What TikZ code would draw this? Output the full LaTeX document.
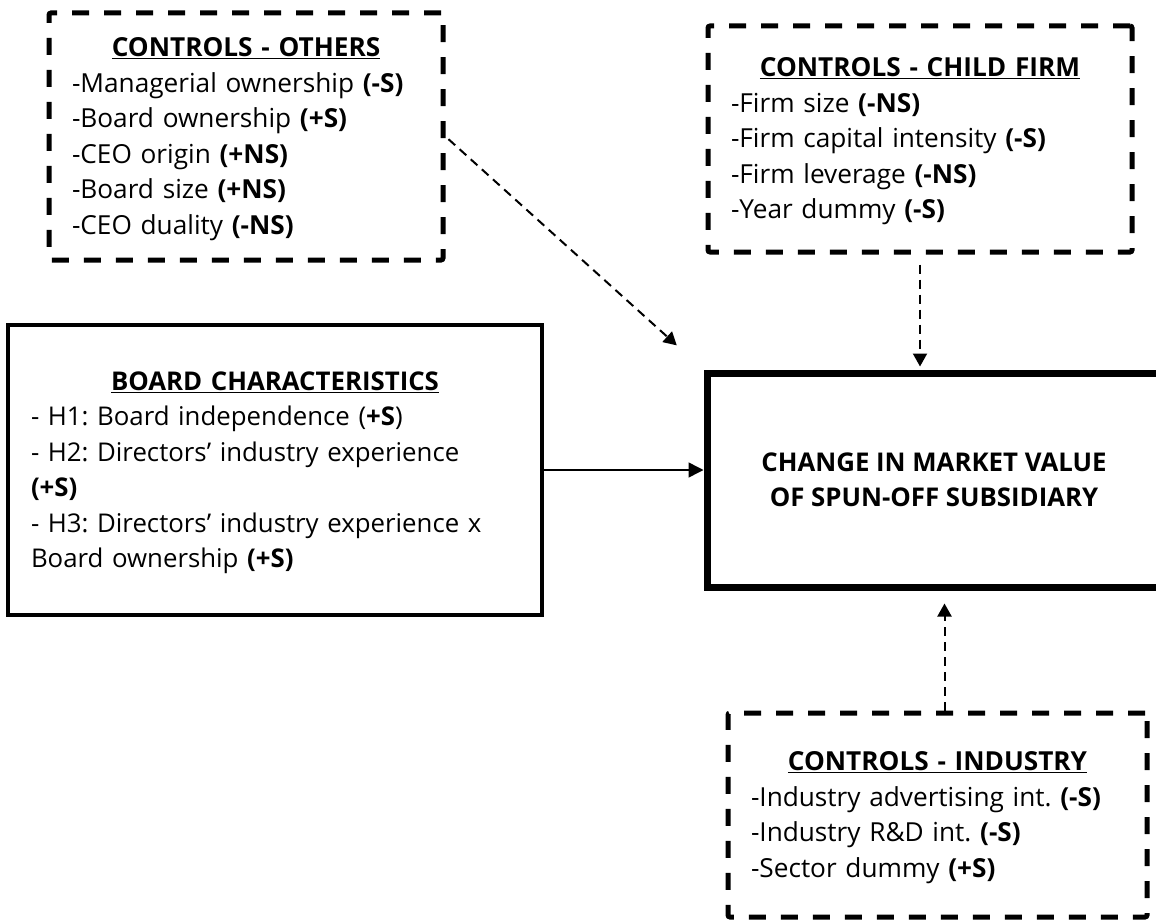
\documentclass[tikz,border=0pt]{standalone}
\usepackage{fontspec}
\setmainfont{Open Sans}
\usetikzlibrary{arrows.meta}
\frenchspacing

\newcommand{\boxtitle}[1]{\makebox[\hsize]{\rule{0pt}{24pt}\bfseries\underline{#1}}}
\newcommand{\sig}[1]{\textbf{(#1)}}

\begin{document}
\begin{tikzpicture}[x=1pt, y=-1pt,
        ctrl/.style={rectangle, draw, line width=5pt, dash pattern=on 17pt off 15pt, rounded corners=2pt, align=left, inner xsep=23pt, font=\fontsize{26.2}{35.5}\selectfont},
        board/.style={rectangle, draw, line width=4pt, align=left, inner xsep=23pt, font=\fontsize{25.8}{35.5}\selectfont},
        outcome/.style={rectangle, draw, line width=7pt, align=center, font=\bfseries\fontsize{25.8}{35}\selectfont},
        link/.style={-{Triangle[length=13pt,width=14pt]}, line width=2pt, dash pattern=on 9pt off 6pt}
    ]
        \useasboundingbox (0,0) rectangle (1156,923);

        % Control groups
        \node[ctrl, minimum width=394pt, minimum height=247pt, text width=348pt] (others) at (246,136.5) {\boxtitle{CONTROLS - OTHERS}\\-Managerial ownership \sig{-S}\\-Board ownership \sig{+S}\\-CEO origin \sig{+NS}\\-Board size \sig{+NS}\\-CEO duality \sig{-NS}};
        \node[ctrl, minimum width=424pt, minimum height=226pt, text width=378pt] (child) at (920,139) {\boxtitle{CONTROLS - CHILD FIRM}\\-Firm size \sig{-NS}\\-Firm capital intensity \sig{-S}\\-Firm leverage \sig{-NS}\\-Year dummy \sig{-S}};
        \node[ctrl, minimum width=419pt, minimum height=204pt, text width=373pt] (industry) at (937.5,815) {\boxtitle{CONTROLS - INDUSTRY}\\-Industry advertising int. \sig{-S}\\-Industry R\&D int. \sig{-S}\\-Sector dummy \sig{+S}};

        % Hypotheses
        \node[board, minimum width=534pt, minimum height=290pt, text width=488pt] (hyp) at (275,470) {\boxtitle{BOARD CHARACTERISTICS}\\- H1: Board independence (\textbf{+S})\\- H2: Directors' industry experience\\\sig{+S}\\- H3: Directors' industry experience x\\Board ownership \sig{+S}};

        % Outcome
        \node[outcome, minimum width=454pt, minimum height=214pt] (value) at (934,480) {CHANGE IN MARKET VALUE\\OF SPUN-OFF SUBSIDIARY};

        % Connessioni
        \draw[-{Triangle[length=15pt,width=15pt]}, line width=1.5pt] (hyp.east) -- (hyp.east -| value.west);
        \draw[link, shorten <=4pt, shorten >=36pt] (others.east) -- (value.north west);
        \draw[link, shorten <=10pt, shorten >=3pt] (child.south) -- (child.south |- value.north);
        \draw[link, shorten >=13pt] ([xshift=7pt]industry.north) -- ([xshift=7pt]industry.north |- value.south);
    \end{tikzpicture}
\end{document}
